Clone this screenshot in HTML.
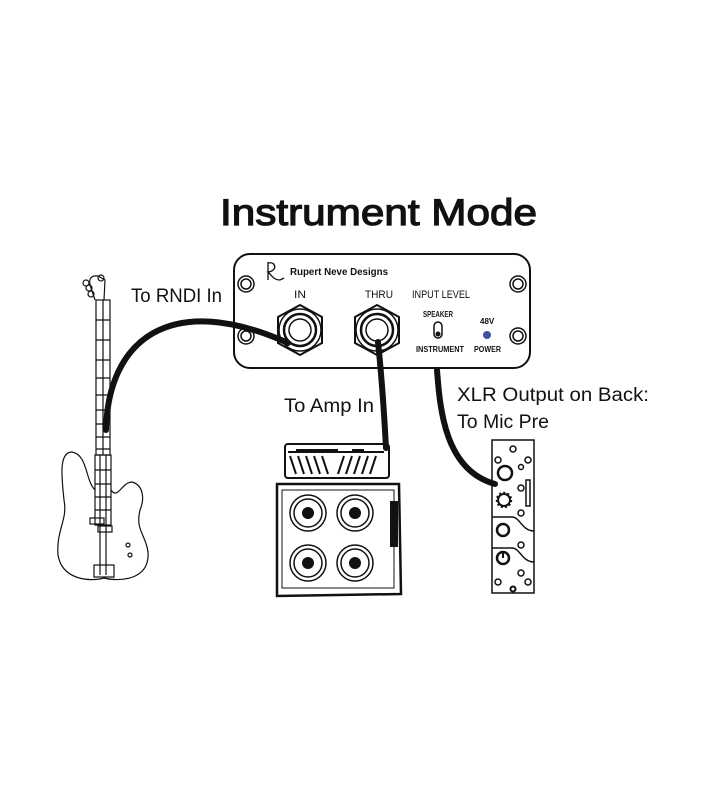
<!DOCTYPE html>
<html><head><meta charset="utf-8"><style>
html,body{margin:0;padding:0;background:#fff;width:728px;height:800px;overflow:hidden}
svg{display:block}
text{font-family:"Liberation Sans",sans-serif;fill:#111}
</style></head><body>
<svg width="728" height="800" viewBox="0 0 728 800" xmlns="http://www.w3.org/2000/svg">
<text x="220" y="225" font-size="37" stroke="#111" stroke-width="1.2" textLength="317" lengthAdjust="spacingAndGlyphs">Instrument Mode</text>

<!-- panel -->
<rect x="234" y="254" width="296" height="114" rx="16" fill="#fff" stroke="#111" stroke-width="2"/>
<g fill="none" stroke="#111" stroke-width="1.5">
<circle cx="246" cy="284" r="8"/><circle cx="246" cy="284" r="5"/>
<circle cx="518" cy="284" r="8"/><circle cx="518" cy="284" r="5"/>
<circle cx="246" cy="336" r="8"/><circle cx="246" cy="336" r="5"/>
<circle cx="518" cy="336" r="8"/><circle cx="518" cy="336" r="5"/>
</g>
<path d="M268 262 l0 18 M268 263 c8 -2 10 8 0 9 c4 4 6 8 12 8 l4 -2" fill="none" stroke="#111" stroke-width="1.3"/>
<text x="290" y="275" font-size="10" font-weight="bold" textLength="98" lengthAdjust="spacingAndGlyphs">Rupert Neve Designs</text>
<text x="294" y="298" font-size="11" textLength="12" lengthAdjust="spacingAndGlyphs">IN</text>
<text x="365" y="298" font-size="11" textLength="28" lengthAdjust="spacingAndGlyphs">THRU</text>
<text x="412" y="298" font-size="11" textLength="58" lengthAdjust="spacingAndGlyphs">INPUT LEVEL</text>
<!-- jacks -->
<g fill="none" stroke="#111">
<polygon points="300,305 322,317 322,343 300,355 278,343 278,317" stroke-width="2"/>
<circle cx="300" cy="330" r="21" stroke-width="1.5"/><circle cx="300" cy="330" r="16" stroke-width="2.5"/><circle cx="300" cy="330" r="11" stroke-width="1.5"/>
<polygon points="377,305 399,317 399,343 377,355 355,343 355,317" stroke-width="2"/>
<circle cx="377" cy="330" r="21" stroke-width="1.5"/><circle cx="377" cy="330" r="16" stroke-width="2.5"/><circle cx="377" cy="330" r="11" stroke-width="1.5"/>
</g>
<text x="423" y="317" font-size="8" font-weight="bold" textLength="30" lengthAdjust="spacingAndGlyphs">SPEAKER</text>
<rect x="434" y="322" width="8" height="16" rx="4" fill="none" stroke="#111" stroke-width="1.5"/>
<circle cx="438" cy="334" r="2.5" fill="#111"/>
<text x="416" y="352" font-size="8" font-weight="bold" textLength="48" lengthAdjust="spacingAndGlyphs">INSTRUMENT</text>
<text x="480" y="324" font-size="8" font-weight="bold">48V</text>
<circle cx="487" cy="335" r="4" fill="#4050a0"/>
<text x="474" y="352" font-size="8" font-weight="bold" textLength="27" lengthAdjust="spacingAndGlyphs">POWER</text>

<!-- guitar -->
<g fill="none" stroke="#111" stroke-width="1.2">
<path d="M95 300 L90 285 Q88 275 98 276 L105 280 L104 300"/>
<circle cx="89" cy="288" r="3"/><circle cx="91" cy="294" r="3"/><circle cx="86" cy="283" r="3"/><circle cx="101" cy="278" r="3"/>
<rect x="96" y="300" width="14" height="155"/>
<path d="M96 320 h14 M96 340 h14 M96 360 h14 M96 378 h14 M96 395 h14 M96 410 h14 M96 424 h14 M96 437 h14 M96 449 h14 M103 300 v155"/>
<rect x="95" y="455" width="16" height="70"/>
<path d="M95 470 h16 M95 484 h16 M95 497 h16 M95 510 h16"/>
<path d="M95 490 C85 480 88 455 72 452 C58 452 62 480 64 500 C68 520 56 530 58 555 C62 580 90 582 104 578 C120 582 150 580 148 552 C146 535 135 530 140 510 C145 498 143 485 132 482 C122 482 118 500 111 490"/>
<rect x="90" y="518" width="14" height="6"/><rect x="98" y="526" width="14" height="6"/>
<rect x="94" y="565" width="20" height="12"/>
<path d="M100 455 V575 M106 455 V575"/>
<circle cx="128" cy="545" r="2"/><circle cx="130" cy="555" r="2"/>
</g>

<!-- cables -->
<g fill="none" stroke="#111" stroke-width="6" stroke-linecap="round">
<path d="M106 430 C108 340 170 290 288 343"/>
<path d="M378 342 C382 380 384 410 386 448"/>
<path d="M437 370 C440 410 445 470 495 484"/>
</g>

<text x="131" y="302" font-size="19" textLength="91" lengthAdjust="spacingAndGlyphs">To RNDI In</text>
<text x="284" y="412" font-size="19" textLength="90" lengthAdjust="spacingAndGlyphs">To Amp In</text>
<text x="457" y="401" font-size="19" textLength="192" lengthAdjust="spacingAndGlyphs">XLR Output on Back:</text>
<text x="457" y="428" font-size="19" textLength="92" lengthAdjust="spacingAndGlyphs">To Mic Pre</text>

<!-- amp -->
<g fill="none" stroke="#111" stroke-width="2">
<rect x="285" y="444" width="104" height="34" rx="3"/>
<path d="M288 452 h96 M290 456 l6 18 M298 456 l6 18 M306 456 l6 18 M314 456 l6 18 M322 456 l6 18 M338 474 l6 -18 M346 474 l6 -18 M354 474 l6 -18 M362 474 l6 -18 M370 474 l6 -18"/>
<path d="M277 484 h122 l2 110 l-124 2 z" stroke-width="2.5"/>
<path d="M282 490 h112 v98 h-112 z" stroke-width="1"/>
<rect x="391" y="502" width="6" height="44" fill="#111"/>
</g>
<g fill="none" stroke="#111" stroke-width="1.5">
<circle cx="308" cy="513" r="18"/><circle cx="308" cy="513" r="14"/>
<circle cx="355" cy="513" r="18"/><circle cx="355" cy="513" r="14"/>
<circle cx="308" cy="563" r="18"/><circle cx="308" cy="563" r="14"/>
<circle cx="355" cy="563" r="18"/><circle cx="355" cy="563" r="14"/>
</g>
<g fill="#111"><circle cx="308" cy="513" r="6"/><circle cx="355" cy="513" r="6"/><circle cx="308" cy="563" r="6"/><circle cx="355" cy="563" r="6"/>
<rect x="296" y="449" width="42" height="3"/><rect x="352" y="449" width="12" height="3"/></g>

<!-- mic pre -->
<g fill="none" stroke="#111" stroke-width="1.5">
<rect x="492" y="440" width="42" height="153"/>
<circle cx="513" cy="449" r="3"/>
<circle cx="498" cy="460" r="3"/><circle cx="528" cy="460" r="3"/><circle cx="521" cy="467" r="2.5"/>
<circle cx="505" cy="473" r="7" stroke-width="2.5"/>
<circle cx="521" cy="488" r="3"/>
<rect x="526" y="480" width="4" height="26"/>
<circle cx="504" cy="500" r="7" stroke-width="2.5" stroke-dasharray="2 2"/>
<circle cx="504" cy="500" r="6" stroke-width="2"/>
<circle cx="521" cy="513" r="3"/>
<path d="M492 517 h20 c8 0 10 14 22 14"/>
<circle cx="503" cy="530" r="6" stroke-width="2.5"/>
<circle cx="521" cy="545" r="3"/>
<path d="M492 548 h20 c8 0 10 14 22 14"/>
<circle cx="503" cy="558" r="6" stroke-width="2.5"/>
<path d="M503 552 v6" stroke-width="2"/>
<circle cx="521" cy="573" r="3"/>
<circle cx="498" cy="582" r="3"/><circle cx="528" cy="582" r="3"/>
<circle cx="513" cy="589" r="2.5" stroke-width="2"/>
</g>
</svg>
</body></html>
